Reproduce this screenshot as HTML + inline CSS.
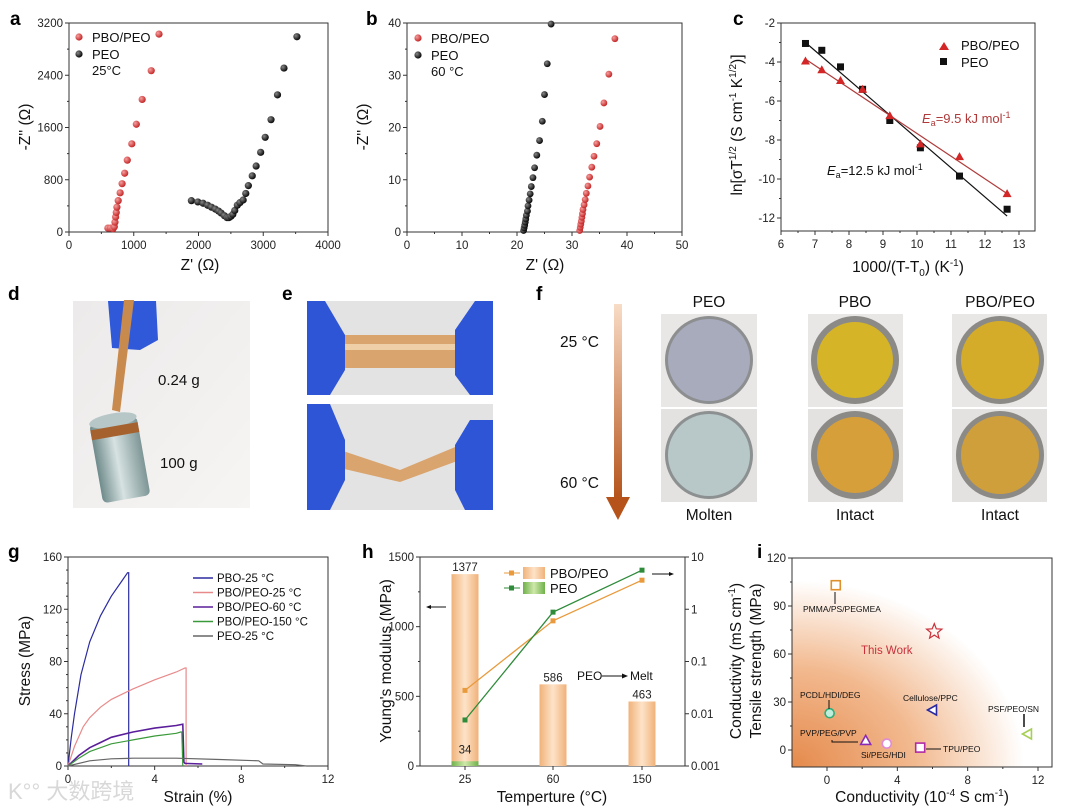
<!DOCTYPE html>
<html><head><meta charset="utf-8">
<style>
html,body{margin:0;padding:0;background:#fff;}
svg{display:block;font-family:"Liberation Sans",Arial,sans-serif;}
.t{font-size:11.5px;fill:#222;}
.at{font-size:15.5px;fill:#111;}
.pl{font-size:19px;font-weight:bold;fill:#000;}
.lg{font-size:13px;fill:#111;}
</style></head><body>
<svg id="fig" width="1080" height="810" viewBox="0 0 1080 810" xmlns="http://www.w3.org/2000/svg">
<defs>
<radialGradient id="iBg" cx="0" cy="1" r="1.05">
<stop offset="0" stop-color="#e58a4c"/><stop offset="0.45" stop-color="#f2b98f"/><stop offset="0.85" stop-color="#fff" /><stop offset="1" stop-color="#fff"/>
</radialGradient>
<linearGradient id="barO" x1="0" x2="1"><stop offset="0" stop-color="#f0b27a"/><stop offset="0.5" stop-color="#fde3c8"/><stop offset="1" stop-color="#f0b27a"/></linearGradient>
<linearGradient id="barG" x1="0" x2="1"><stop offset="0" stop-color="#6fb14a"/><stop offset="0.5" stop-color="#cfe8a9"/><stop offset="1" stop-color="#6fb14a"/></linearGradient>
<linearGradient id="arrowF" x1="0" y1="0" x2="0" y2="1"><stop offset="0" stop-color="#f8dcc6"/><stop offset="1" stop-color="#b5531a"/></linearGradient>
<radialGradient id="ballR" cx="0.35" cy="0.35" r="0.7"><stop offset="0" stop-color="#f4a0a0"/><stop offset="1" stop-color="#c21f1f"/></radialGradient>
<radialGradient id="ballK" cx="0.35" cy="0.35" r="0.7"><stop offset="0" stop-color="#888"/><stop offset="1" stop-color="#000"/></radialGradient>
<linearGradient id="bgPhoto" x1="0" y1="0" x2="1" y2="1"><stop offset="0" stop-color="#eceaea"/><stop offset="1" stop-color="#f7f5f3"/></linearGradient>
<linearGradient id="metal" x1="0" x2="1"><stop offset="0" stop-color="#6f8b8b"/><stop offset="0.45" stop-color="#d7e2e2"/><stop offset="1" stop-color="#7e9696"/></linearGradient>
</defs>
<g id="root"></g>

<g>
<text class="pl" x="8" y="300">d</text>
<rect x="73" y="301" width="177" height="207" fill="url(#bgPhoto)"/>
<path d="M108 301 L156 301 L158 340 L140 350 L112 348 Z" fill="#2f59d8"/>
<path d="M124 300 L134 300 L120 412 L112 410 Z" fill="#c98a4e"/>
<g transform="rotate(-10 118 455)">
<rect x="95" y="420" width="48" height="80" rx="5" fill="url(#metal)"/>
<ellipse cx="119" cy="420" rx="24" ry="7" fill="#b7c7c7"/>
<rect x="95" y="426" width="48" height="10" fill="#a5622f"/>
</g>
<text x="158" y="385" font-size="15" fill="#111">0.24 g</text>
<text x="160" y="468" font-size="15" fill="#111">100 g</text>

<text class="pl" x="282" y="300">e</text>
<g>
<rect x="307" y="301" width="186" height="94" fill="#e4e3e4"/>
<rect x="340" y="335" width="120" height="33" fill="#d9a46e"/>
<rect x="340" y="344" width="120" height="6" fill="#efcfa8"/>
<path d="M307 301 L325 301 L345 335 L345 370 L330 395 L307 395Z" fill="#2d55d6"/>
<path d="M493 301 L475 301 L455 330 L455 375 L470 395 L493 395Z" fill="#2d55d6"/>
</g>
<g>
<rect x="307" y="404" width="186" height="106" fill="#e4e3e4"/>
<path d="M340 450 L400 470 L460 445 L460 460 L400 482 L340 468Z" fill="#d9a46e"/>
<path d="M307 404 L330 404 L345 440 L345 480 L330 510 L307 510Z" fill="#2d55d6"/>
<path d="M493 420 L470 420 L455 445 L455 490 L465 510 L493 510Z" fill="#2d55d6"/>
</g>

<text class="pl" x="536" y="300">f</text>
<rect x="614" y="304" width="8" height="195" fill="url(#arrowF)"/>
<path d="M606 497 L630 497 L618 520 Z" fill="#b5531a"/>
<text x="560" y="347" font-size="15.5" fill="#111">25 °C</text>
<text x="560" y="488" font-size="15.5" fill="#111">60 °C</text>
<text x="709" y="307" font-size="15.5" fill="#111" text-anchor="middle">PEO</text>
<text x="855" y="307" font-size="15.5" fill="#111" text-anchor="middle">PBO</text>
<text x="1000" y="307" font-size="15.5" fill="#111" text-anchor="middle">PBO/PEO</text>
<text x="709" y="520" font-size="15.5" fill="#111" text-anchor="middle">Molten</text>
<text x="855" y="520" font-size="15.5" fill="#111" text-anchor="middle">Intact</text>
<text x="1000" y="520" font-size="15.5" fill="#111" text-anchor="middle">Intact</text>
<g>
<rect x="661" y="314" width="96" height="93" fill="#e9e7e6"/><circle cx="709" cy="360" r="44" fill="#8c8e8f"/><circle cx="709" cy="360" r="41" fill="#a8abbc"/>
<rect x="661" y="409" width="96" height="93" fill="#e4e2e0"/><circle cx="709" cy="455" r="44" fill="#8c9090"/><circle cx="709" cy="455" r="41" fill="#b8c7c8"/>
<rect x="808" y="314" width="95" height="93" fill="#e9e7e6"/><circle cx="855" cy="360" r="44" fill="#8c8a86"/><circle cx="855" cy="360" r="38" fill="#d6b428"/>
<rect x="808" y="409" width="95" height="93" fill="#e4e2e0"/><circle cx="855" cy="455" r="44" fill="#8c8a86"/><circle cx="855" cy="455" r="38" fill="#d79f3a"/>
<rect x="952" y="314" width="95" height="93" fill="#e9e7e6"/><circle cx="1000" cy="360" r="44" fill="#8c8a86"/><circle cx="1000" cy="360" r="39" fill="#d4ac2a"/>
<rect x="952" y="409" width="95" height="93" fill="#e4e2e0"/><circle cx="1000" cy="455" r="44" fill="#8c8a86"/><circle cx="1000" cy="455" r="39" fill="#cf9f3c"/>
</g>
</g>

<g><text x="8" y="799" font-size="22" fill="#d8d8d8" font-family="'Liberation Sans','Noto Sans CJK SC',sans-serif">K°° 大数跨境</text></g>
</svg>

<script>
const aRedX=[600,640,680,700,710,720,730,740,760,790,820,860,900,970,1040,1130,1270,1390];
const aRedY=[60,60,50,80,150,230,300,380,480,600,740,900,1100,1350,1650,2030,2470,3030];
const aBlkX=[1890,1990,2070,2140,2200,2260,2310,2350,2400,2440,2470,2500,2530,2560,2600,2640,2690,2730,2770,2830,2890,2960,3030,3120,3220,3320,3520];
const aBlkY=[480,460,440,410,380,350,320,290,250,220,220,240,270,330,410,450,490,590,710,860,1010,1220,1450,1720,2100,2510,2990];
const aXTicks=[0,1000,2000,3000,4000];
const aYTicks=[0,800,1600,2400,3200];
const bBlkX=[21.2,21.3,21.4,21.5,21.6,21.7,21.9,22.0,22.2,22.4,22.6,22.9,23.2,23.6,24.1,24.6,25.0,25.5,26.2];
const bBlkY=[0.3,0.8,1.3,1.9,2.5,3.2,4.0,5.0,6.1,7.3,8.7,10.4,12.3,14.7,17.5,21.2,26.3,32.2,39.8];
const bRedX=[31.4,31.5,31.6,31.7,31.8,31.9,32.0,32.2,32.4,32.6,32.9,33.2,33.6,34.0,34.5,35.1,35.8,36.7,37.8];
const bRedY=[0.3,0.9,1.5,2.1,2.8,3.5,4.3,5.2,6.2,7.4,8.8,10.5,12.4,14.5,16.9,20.2,24.7,30.2,37.0];
const bXTicks=[0,10,20,30,40,50];
const bYTicks=[0,10,20,30,40];
const cX=[6.72,7.2,7.75,8.4,9.2,10.1,11.25,12.65];
const cBlend=[-3.95,-4.4,-4.95,-5.4,-6.75,-8.2,-8.85,-10.75];
const cPeo=[-3.05,-3.4,-4.25,-5.4,-7.0,-8.4,-9.85,-11.55];
const cBlendFit=[-3.85,-10.75];
const cPeoFit=[-3.0,-11.9];
const cXTicks=[6,7,8,9,10,11,12,13];
const cYTicks=[-2,-4,-6,-8,-10,-12];
const gNames=["PBO-25 °C","PBO/PEO-25 °C","PBO/PEO-60 °C","PBO/PEO-150 °C","PEO-25 °C"];
const gColors=["#2b2ba0","#e88a8a","#5a1e9a","#3a9a3a","#666"];
const gStrain=[
 [0,0.15,0.3,0.6,1,1.5,2,2.5,2.75,2.8,2.8],
 [0,0.3,0.7,1,1.5,2,3,4,5,5.4,5.45,5.45],
 [0,0.5,1,1.5,2,3,4,5,5.3,5.35,5.4,6.2],
 [0,0.5,1,2,3,4,5,5.2,5.25,5.3],
 [0,1,2,3,5,7,8.8,9,10.5,11]];
const gStress=[
 [0,22,40,70,95,115,130,142,148,148,0],
 [0,15,30,37,45,51,59,66,72,75,75,0],
 [0,8,14,18,22,26,29,31,32,3,2,1.5],
 [0,6,11,17,20,23,25,26,26,0],
 [0,4,5.5,6,6,5,4,1.5,1,0]];
const gXTicks=[0,4,8,12];
const gYTicks=[0,40,80,120,160];
const hCats=["25","60","150"];
const hModBlend=[1377,586,463];
const hModPeo=[34,null,null];
const hCondBlend=[0.028,0.6,3.6];
const hCondPeo=[0.0076,0.88,5.6];
const hYTicks=[0,500,1000,1500];
const hRTicks=[0.001,0.01,0.1,1,10];
const hRLabels=["0.001","0.01","0.1","1","10"];
const iNames=["PMMA/PS/PEGMEA","This Work","PCDL/HDI/DEG","Cellulose/PPC","PSF/PEO/SN","PVP/PEG/PVP","Si/PEG/HDI","TPU/PEO"];
const iCond=[0.5,6.1,0.15,6.0,11.4,2.2,3.4,5.3];
const iStrength=[103,74,23,25,10,6,4,1.5];
const iXTicks=[0,4,8,12];
const iYTicks=[0,30,60,90,120];

const NS="http://www.w3.org/2000/svg";
const root=document.getElementById('root');
function mk(tag,attrs,parent,txt){const e=document.createElementNS(NS,tag);for(const k in attrs)e.setAttribute(k,attrs[k]);if(txt!==undefined)e.textContent=txt;(parent||root).appendChild(e);return e;}
function lin(d0,d1,p0,p1){return v=>p0+(v-d0)*(p1-p0)/(d1-d0);}
function logs(d0,d1,p0,p1){return v=>p0+(Math.log10(v)-Math.log10(d0))*(p1-p0)/(Math.log10(d1)-Math.log10(d0));}
function frame(g,L,T,R,B){const r=mk('rect',{x:L,y:T,width:R-L,height:B-T,fill:'none',stroke:'#333','stroke-width':1},g);
}
function xTicks(g,ticks,sx,B,minorN,labels){ticks.forEach((v,i)=>{const x=sx(v);mk('line',{x1:x,x2:x,y1:B,y2:B+4,stroke:'#333'},g);
const t=mk('text',{x:x,y:B+17,'text-anchor':'middle',class:'t'},g,labels?labels[i]:String(v));
if(minorN&&i<ticks.length-1){const x2=sx(ticks[i+1]);for(let k=1;k<minorN;k++){const xm=x+(x2-x)*k/minorN;mk('line',{x1:xm,x2:xm,y1:B,y2:B+2,stroke:'#333'},g);}}});}
function yTicks(g,ticks,sy,L,minorN,labels,right){ticks.forEach((v,i)=>{const y=sy(v);mk('line',{x1:L,x2:right?L+4:L-4,y1:y,y2:y,stroke:'#333'},g);
const t=mk('text',{x:right?L+6:L-6,y:y+4,'text-anchor':right?'start':'end',class:'t'},g,labels?labels[i]:String(v));
if(minorN&&i<ticks.length-1){const y2=sy(ticks[i+1]);for(let k=1;k<minorN;k++){const ym=y+(y2-y)*k/minorN;mk('line',{x1:L,x2:right?L+2:L-2,y1:ym,y2:ym,stroke:'#333'},g);}}});}
function ylabel(g,x,y,txt,name){const t=mk('text',{x:x,y:y,transform:`rotate(-90 ${x} ${y})`,'text-anchor':'middle',class:'at'},g);t.innerHTML=txt;return t;}
function xlabel(g,x,y,txt,name){const t=mk('text',{x:x,y:y,'text-anchor':'middle',class:'at'},g);t.innerHTML=txt;return t;}
function plabel(g,x,y,s){const t=mk('text',{x:x,y:y,class:'pl'},g,s);}
function legendText(g,x,y,s,fill){const t=mk('text',{x:x,y:y,class:'lg',fill:fill||'#111'},g,s);return t;}

(function(){const g=mk('g',{});
const L=69,R=328,T=23,B=232;const sx=lin(0,4000,L,R),sy=lin(0,3200,B,T);
frame(g,L,T,R,B);xTicks(g,aXTicks,sx,B,2);yTicks(g,aYTicks,sy,L,2);
aRedX.forEach((x,i)=>{const c=mk('circle',{cx:sx(x),cy:sy(aRedY[i]),r:3.6,fill:'url(#ballR)'},g);});
aBlkX.forEach((x,i)=>{const c=mk('circle',{cx:sx(x),cy:sy(aBlkY[i]),r:3.6,fill:'url(#ballK)'},g);});
mk('circle',{cx:79,cy:37,r:3.6,fill:'url(#ballR)'},g);legendText(g,92,42,'PBO/PEO');
mk('circle',{cx:79,cy:54,r:3.6,fill:'url(#ballK)'},g);legendText(g,92,59,'PEO');legendText(g,92,75,'25°C');
ylabel(g,30,127,"-Z'' (Ω)",'y-axis-title-a');xlabel(g,200,270,"Z' (Ω)",'x-axis-title-a');plabel(g,10,25,'a');})();

(function(){const g=mk('g',{});
const L=407,R=682,T=23,B=232;const sx=lin(0,50,L,R),sy=lin(0,40,B,T);
frame(g,L,T,R,B);xTicks(g,bXTicks,sx,B,2);yTicks(g,bYTicks,sy,L,2);
bBlkX.forEach((x,i)=>{const c=mk('circle',{cx:sx(x),cy:sy(bBlkY[i]),r:3.4,fill:'url(#ballK)'},g);});
bRedX.forEach((x,i)=>{const c=mk('circle',{cx:sx(x),cy:sy(bRedY[i]),r:3.4,fill:'url(#ballR)'},g);});
mk('circle',{cx:418,cy:38,r:3.6,fill:'url(#ballR)'},g);legendText(g,431,43,'PBO/PEO');
mk('circle',{cx:418,cy:55,r:3.6,fill:'url(#ballK)'},g);legendText(g,431,60,'PEO');legendText(g,431,76,'60 °C');
ylabel(g,368,127,"-Z'' (Ω)",'y-axis-title-b');xlabel(g,545,270,"Z' (Ω)",'x-axis-title-b');plabel(g,366,25,'b');})();

(function(){const g=mk('g',{});
const L=781,R=1035,T=23,B=231;const sx=lin(6,13,L,1019),sy=lin(-2,-12,T,218);
frame(g,L,T,R,B);xTicks(g,cXTicks,sx,B,2);yTicks(g,cYTicks,sy,L,2);
const x0=cX[0],x1=cX[cX.length-1];
let l=mk('line',{x1:sx(x0),y1:sy(cPeoFit[0]),x2:sx(x1),y2:sy(cPeoFit[1]),stroke:'#111','stroke-width':1.2},g);
l=mk('line',{x1:sx(x0),y1:sy(cBlendFit[0]),x2:sx(x1),y2:sy(cBlendFit[1]),stroke:'#b03a3a','stroke-width':1.2},g);
cX.forEach((x,i)=>{const px=sx(x),py=sy(cPeo[i]);const r=mk('rect',{x:px-3.5,y:py-3.5,width:7,height:7,fill:'#111'},g);
const qy=sy(cBlend[i]);const p=mk('polygon',{points:`${px},${qy-4.5} ${px-4.5},${qy+3.5} ${px+4.5},${qy+3.5}`,fill:'#d32626'},g);});
mk('polygon',{points:'944,42 939,50 949,50',fill:'#d32626'},g);legendText(g,961,50,'PBO/PEO');
mk('rect',{x:940,y:58,width:7,height:7,fill:'#111'},g);legendText(g,961,67,'PEO');
let t=mk('text',{x:922,y:123,'font-size':13,fill:'#b03a3a'},g);t.innerHTML='<tspan font-style="italic">E</tspan><tspan font-size="9" dy="3">a</tspan><tspan dy="-3">=9.5 kJ mol</tspan><tspan font-size="9" dy="-5">-1</tspan>';
t=mk('text',{x:827,y:175,'font-size':13,fill:'#111'},g);t.innerHTML='<tspan font-style="italic">E</tspan><tspan font-size="9" dy="3">a</tspan><tspan dy="-3">=12.5 kJ mol</tspan><tspan font-size="9" dy="-5">-1</tspan>';
ylabel(g,742,125,'ln[σT<tspan font-size="10" dy="-6">1/2</tspan><tspan dy="6"> (S cm</tspan><tspan font-size="10" dy="-6">-1</tspan><tspan dy="6"> K</tspan><tspan font-size="10" dy="-6">1/2</tspan><tspan dy="6">)]</tspan>','y-axis-title-c');
xlabel(g,908,272,'1000/(T-T<tspan font-size="10" dy="4">0</tspan><tspan dy="-4">) (K</tspan><tspan font-size="10" dy="-6">-1</tspan><tspan dy="6">)</tspan>','x-axis-title-c');plabel(g,733,25,'c');})();

(function(){const g=mk('g',{});
const L=68,R=328,T=557,B=766;const sx=lin(0,12,L,R),sy=lin(0,160,B,T);
frame(g,L,T,R,B);xTicks(g,gXTicks,sx,B,2);yTicks(g,gYTicks,sy,L,4);
gStrain.forEach((xs,k)=>{const pts=xs.map((x,i)=>sx(x).toFixed(1)+','+sy(gStress[k][i]).toFixed(1)).join(' ');
const p=mk('polyline',{points:pts,fill:'none',stroke:gColors[k],'stroke-width':k==2?1.6:1.2},g);});
gNames.forEach((n,k)=>{const y=578+k*14.5;mk('line',{x1:193,x2:213,y1:y,y2:y,stroke:gColors[k],'stroke-width':1.5},g);const t=mk('text',{x:217,y:y+4,'font-size':11.5,fill:'#111'},g,n);});
ylabel(g,30,661,'Stress (MPa)','y-axis-title-g');xlabel(g,198,802,'Strain (%)','x-axis-title-g');plabel(g,8,558,'g');})();

(function(){const g=mk('g',{});
const L=420,R=685,T=557,B=766;const sy=lin(0,1500,B,T),sr=logs(0.001,10,B,T);const cx=[465,553,642];const bw=27;
frame(g,L,T,R,B);yTicks(g,hYTicks,sy,L,2);yTicks(g,hRTicks,sr,R,0,hRLabels,true);
hCats.forEach((c,i)=>{mk('line',{x1:cx[i],x2:cx[i],y1:B,y2:B+4,stroke:'#333'},g);const t=mk('text',{x:cx[i],y:B+17,'text-anchor':'middle',class:'t'},g,c);
const r=mk('rect',{x:cx[i]-bw/2,y:sy(hModBlend[i]),width:bw,height:B-sy(hModBlend[i]),fill:'url(#barO)'},g);
const lb=mk('text',{x:cx[i],y:sy(hModBlend[i])-3,'text-anchor':'middle',class:'t'},g,String(hModBlend[i]));
if(hModPeo[i]!=null){const r2=mk('rect',{x:cx[i]-bw/2,y:sy(hModPeo[i]),width:bw,height:B-sy(hModPeo[i]),fill:'url(#barG)'},g);
const l2=mk('text',{x:cx[i],y:sy(hModPeo[i])-8,'text-anchor':'middle',class:'t'},g,String(hModPeo[i]));}});
[[hCondBlend,'#e89a3c','line-cond-pbo-peo'],[hCondPeo,'#2e8b3a','line-cond-peo']].forEach(([arr,col,nm])=>{
const p=mk('polyline',{points:arr.map((v,i)=>cx[i]+','+sr(v).toFixed(1)).join(' '),fill:'none',stroke:col,'stroke-width':1.3},g);
arr.forEach((v,i)=>{const q=mk('rect',{x:cx[i]-2.5,y:sr(v)-2.5,width:5,height:5,fill:col},g);});});
mk('line',{x1:504,x2:520,y1:573,y2:573,stroke:'#e89a3c'},g);mk('rect',{x:509,y:570.5,width:5,height:5,fill:'#e89a3c'},g);mk('rect',{x:523,y:567,width:22,height:12,fill:'url(#barO)'},g);legendText(g,550,578,'PBO/PEO');
mk('line',{x1:504,x2:520,y1:588,y2:588,stroke:'#2e8b3a'},g);mk('rect',{x:509,y:585.5,width:5,height:5,fill:'#2e8b3a'},g);mk('rect',{x:523,y:582,width:22,height:12,fill:'url(#barG)'},g);legendText(g,550,593,'PEO');
mk('line',{x1:428,x2:446,y1:607,y2:607,stroke:'#111'},g);mk('polygon',{points:'426,607 431,605 431,609',fill:'#111'},g);
mk('line',{x1:652,x2:672,y1:574,y2:574,stroke:'#111'},g);mk('polygon',{points:'674,574 669,572 669,576',fill:'#111'},g);
let t=mk('text',{x:577,y:680,'font-size':12,fill:'#111'},g,'PEO');
mk('line',{x1:602,x2:624,y1:676,y2:676,stroke:'#111'},g);mk('polygon',{points:'628,676 622,673.5 622,678.5',fill:'#111'},g);mk('text',{x:630,y:680,'font-size':12,fill:'#111'},g,'Melt');
ylabel(g,391,661,"Young's modulus (MPa)",'y-axis-title-h');xlabel(g,552,802,'Temperture (°C)','x-axis-title-h');plabel(g,362,558,'h');
ylabel(g,741,661,'Conductivity (mS cm<tspan font-size="10" dy="-6">-1</tspan><tspan dy="6">)</tspan>','y-axis-title-h-right');})();

(function(){const g=mk('g',{});
const L=792,R=1052,T=558,B=767;const sx=lin(0,12,827,1038),sy=lin(0,120,750,T);
const bg=mk('rect',{x:L,y:T,width:R-L,height:B-T,fill:'url(#iBg)'},g);
frame(g,L,T,R,B);xTicks(g,iXTicks,sx,B,2);yTicks(g,iYTicks,sy,L,2);
const cols=['#e0902a','#c8303a','#2fae7a','#2a2aa0','#a6cf55','#8a2ab5','#e08ad8','#b02aa8'];
iNames.forEach((n,i)=>{const x=sx(iCond[i]),y=sy(iStrength[i]);let m;
if(i==0||i==7)m=mk('rect',{x:x-4.5,y:y-4.5,width:9,height:9,fill:'#fff',stroke:cols[i],'stroke-width':1.6},g);
else if(i==1){let pts=[];for(let k=0;k<10;k++){const a=-Math.PI/2+k*Math.PI/5,r=k%2?3.5:8;pts.push((x+r*Math.cos(a)).toFixed(1)+','+(y+r*Math.sin(a)).toFixed(1));}m=mk('polygon',{points:pts.join(' '),fill:'none',stroke:cols[i],'stroke-width':1.2},g);}
else if(i==2||i==6)m=mk('circle',{cx:x,cy:y,r:4.5,fill:i==2?'#bfeedd':'#fff',stroke:cols[i],'stroke-width':1.6},g);
else if(i==5)m=mk('polygon',{points:`${x},${y-5} ${x-5},${y+4} ${x+5},${y+4}`,fill:'#fff',stroke:cols[i],'stroke-width':1.6},g);
else m=mk('polygon',{points:`${x-5},${y} ${x+4},${y-5} ${x+4},${y+5}`,fill:'#fff',stroke:cols[i],'stroke-width':1.6},g);
});
const lbl=[[803,612,'PMMA/PS/PEGMEA'],[861,654,'This Work'],[800,698,'PCDL/HDI/DEG'],[903,701,'Cellulose/PPC'],[988,712,'PSF/PEO/SN'],[800,736,'PVP/PEG/PVP'],[861,758,'Si/PEG/HDI'],[943,752,'TPU/PEO']];
lbl.forEach(([x,y,s],i)=>{const t=mk('text',{x:x,y:y,'font-size':i==1?11.5:8.5,fill:i==1?'#c8303a':'#111'},g,s);});
mk('line',{x1:835,x2:835,y1:592,y2:604,stroke:'#111'},g);mk('line',{x1:829,x2:829,y1:700,y2:709,stroke:'#111'},g);
mk('line',{x1:1024,x2:1024,y1:714,y2:727,stroke:'#111','stroke-width':1.5},g);
mk('polyline',{points:'832,740 832,742 858,742',fill:'none',stroke:'#111'},g);mk('line',{x1:926,x2:941,y1:749,y2:749,stroke:'#111'},g);
ylabel(g,761,661,'Tensile strength (MPa)','y-axis-title-i');xlabel(g,922,802,'Conductivity (10<tspan font-size="10" dy="-6">-4</tspan><tspan dy="6"> S cm</tspan><tspan font-size="10" dy="-6">-1</tspan><tspan dy="6">)</tspan>','x-axis-title-i');plabel(g,757,558,'i');})();
</script>
</body></html>
